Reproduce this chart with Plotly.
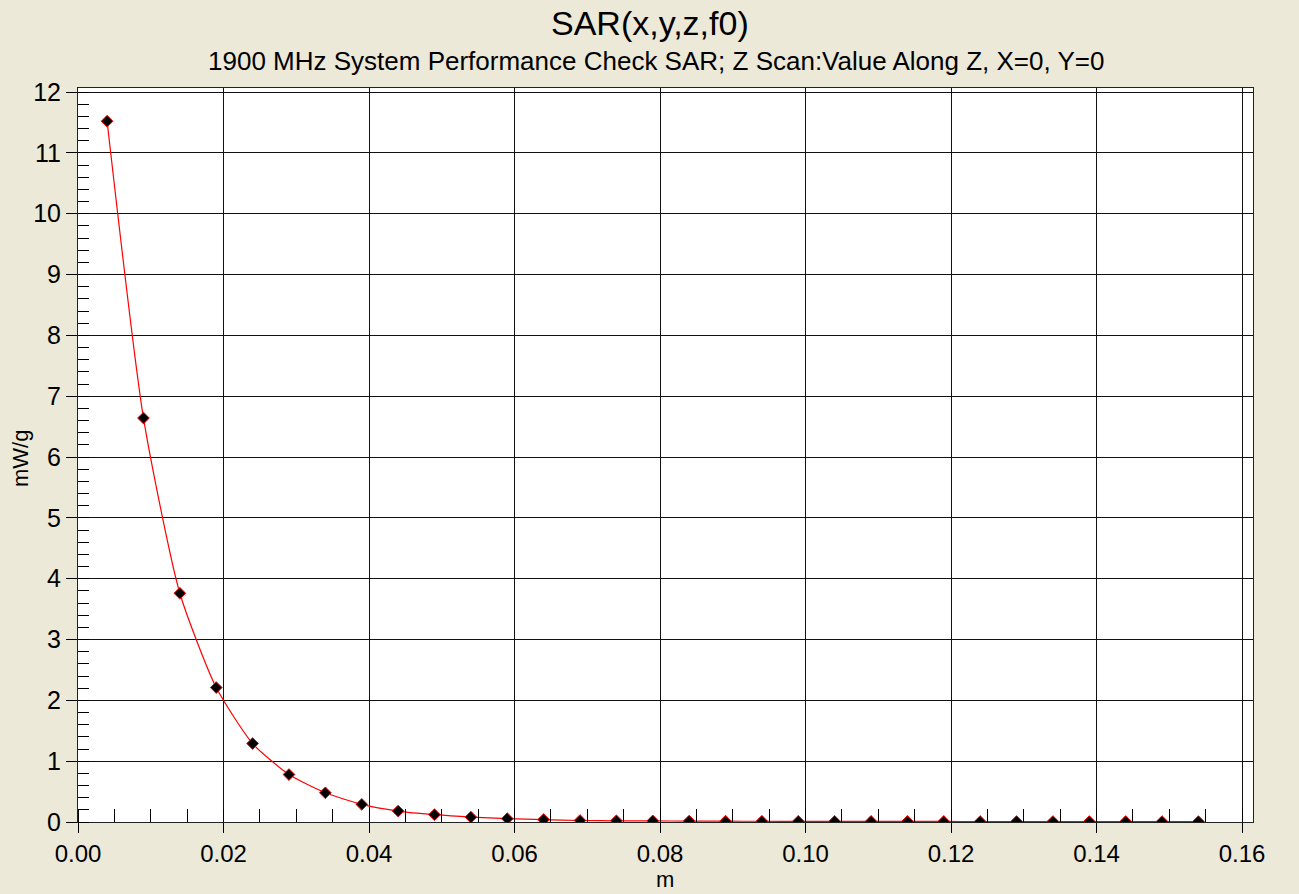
import plotly.graph_objects as go

z_m = [0.004, 0.009, 0.014, 0.019, 0.024, 0.029, 0.034, 0.039, 0.044, 0.049,
       0.054, 0.059, 0.064, 0.069, 0.074, 0.079, 0.084, 0.089, 0.094, 0.099,
       0.104, 0.109, 0.114, 0.119, 0.124, 0.129, 0.134, 0.139, 0.144, 0.149, 0.154]
sar_mwg = [11.52, 6.64, 3.76, 2.21, 1.29, 0.78, 0.48, 0.29, 0.18, 0.12,
           0.08, 0.055, 0.04, 0.025, 0.02, 0.018, 0.015, 0.013, 0.012, 0.011,
           0.01, 0.01, 0.009, 0.009, 0.008, 0.008, 0.008, 0.007, 0.007, 0.007, 0.007]

title = "SAR(x,y,z,f0)"
subtitle = "1900 MHz System Performance Check SAR; Z Scan:Value Along Z, X=0, Y=0"
x_title = "m"
y_title = "mW/g"

font = "Liberation Sans, Arial, sans-serif"

fig = go.Figure()
fig.add_trace(go.Scatter(
    x=z_m, y=sar_mwg, mode="lines+markers",
    line=dict(color="#ff0000", width=1.2, shape="spline", smoothing=0.6),
    marker=dict(symbol="diamond", size=9, color="black",
                line=dict(color="#ff0000", width=1)),
    showlegend=False,
))

axis_common = dict(
    showline=True, linecolor="#222222", linewidth=1, mirror=True,
    showgrid=True, gridcolor="#111111", gridwidth=1,
    ticks="outside", tickcolor="black", tickwidth=1,
    zeroline=False, automargin=False,
)

fig.update_xaxes(
    **axis_common,
    ticklen=10,
    tickfont=dict(family=font, size=24, color="black"),
    range=[0, 0.1615], dtick=0.02, tick0=0, tickformat=".2f",
    minor=dict(dtick=0.005, tick0=0, ticks="inside", ticklen=13,
               tickcolor="black", tickwidth=1, showgrid=False),
)
fig.update_yaxes(
    **axis_common,
    ticklen=11,
    tickfont=dict(family=font, size=25, color="black"),
    range=[0, 12.066], dtick=1, tick0=0,
    minor=dict(dtick=0.2, tick0=0, ticks="inside", ticklen=11,
               tickcolor="black", tickwidth=1, showgrid=False),
)

W, H = 1299, 894
ML, MR, MT, MB = 78, 46, 88, 72
plot_w = W - ML - MR
plot_h = H - MT - MB

def px_x(x):
    return (x - ML) / plot_w

def px_y(y):
    return (H - MB - y) / plot_h

fig.update_layout(
    width=W, height=H,
    margin=dict(l=ML, r=MR, t=MT, b=MB),
    paper_bgcolor="#ECE9D8", plot_bgcolor="white",
    font=dict(family=font, color="black"),
    annotations=[
        dict(text=title, x=px_x(650), y=px_y(23), xref="paper", yref="paper",
             xanchor="center", yanchor="middle", showarrow=False,
             font=dict(family=font, size=34, color="black")),
        dict(text=subtitle, x=px_x(656), y=px_y(61), xref="paper", yref="paper",
             xanchor="center", yanchor="middle", showarrow=False,
             font=dict(family=font, size=26, color="black")),
        dict(text=x_title, x=px_x(665), y=px_y(893), xref="paper", yref="paper",
             xanchor="center", yanchor="bottom", showarrow=False, borderpad=0,
             font=dict(family=font, size=22, color="black")),
        dict(text=y_title, x=px_x(20), y=px_y(458), xref="paper", yref="paper",
             xanchor="center", yanchor="middle", showarrow=False, textangle=-90,
             font=dict(family=font, size=22, color="black")),
    ],
)

fig.write_html("out.html")
